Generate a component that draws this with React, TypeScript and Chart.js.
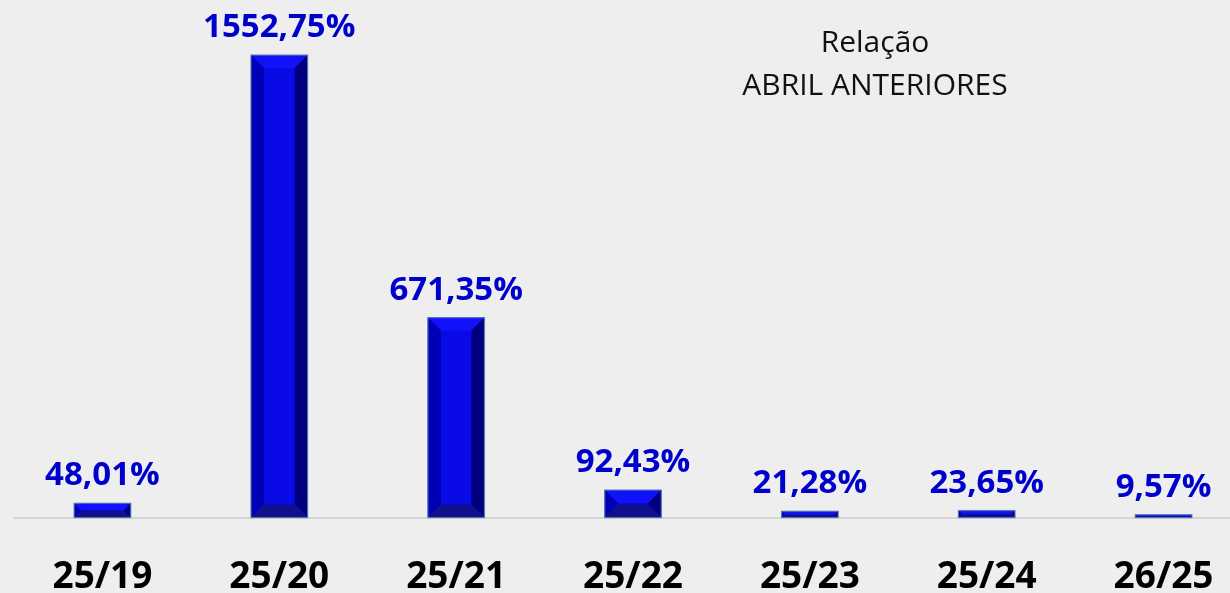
import React, { useEffect, useRef } from "react";
import { Chart, registerables } from "chart.js";

Chart.register(...registerables);

const categories = ["25/19", "25/20", "25/21", "25/22", "25/23", "25/24", "26/25"];
const values = [48.01, 1552.75, 671.35, 92.43, 21.28, 23.65, 9.57];
const titleLines = ["Relação", "ABRIL ANTERIORES"];

const fmt = (v: number) => v.toFixed(2).replace(".", ",") + "%";

const bevelPlugin = {
  id: "bevel",
  afterDatasetsDraw(chart: any) {
    const ctx = chart.ctx;
    const meta = chart.getDatasetMeta(0);
    meta.data.forEach((bar: any) => {
      const { x, y, base, width } = bar.getProps(["x", "y", "base", "width"], true);
      const l = x - width / 2;
      const r = x + width / 2;
      const t = Math.min(y, base);
      const btm = Math.max(y, base);
      const h = btm - t;
      const b = Math.min(13, h / 2, width / 2);
      ctx.save();
      const poly = (pts: number[][], color: string) => {
        ctx.beginPath();
        ctx.moveTo(pts[0][0], pts[0][1]);
        for (let i = 1; i < pts.length; i++) ctx.lineTo(pts[i][0], pts[i][1]);
        ctx.closePath();
        ctx.fillStyle = color;
        ctx.fill();
      };
      poly([[l, t], [r, t], [r, btm], [l, btm]], "#0a0ae6");
      poly([[l, t], [r, t], [r - b, t + b], [l + b, t + b]], "#1212fa");
      poly([[l, t], [l + b, t + b], [l + b, btm - b], [l, btm]], "#0000b4");
      poly([[r, t], [r - b, t + b], [r - b, btm - b], [r, btm]], "#00007e");
      poly([[l, btm], [l + b, btm - b], [r - b, btm - b], [r, btm]], "#10108c");
      ctx.strokeStyle = "rgba(90,120,175,0.9)";
      ctx.lineWidth = 1.2;
      ctx.strokeRect(l, t, width, h);
      ctx.restore();
    });
  },
};

const labelPlugin = {
  id: "valueLabels",
  afterDatasetsDraw(chart: any) {
    const ctx = chart.ctx;
    const meta = chart.getDatasetMeta(0);
    ctx.save();
    ctx.font = "bold 33px 'Open Sans'";
    ctx.fillStyle = "#0000cc";
    ctx.textAlign = "center";
    ctx.textBaseline = "alphabetic";
    meta.data.forEach((bar: any, i: number) => {
      ctx.fillText(fmt(values[i]), bar.x, bar.y - 18);
    });
    ctx.restore();
  },
  afterDraw(chart: any) {
    const ctx = chart.ctx;
    ctx.save();
    ctx.font = "30px 'Open Sans'";
    ctx.fillStyle = "#111111";
    ctx.textAlign = "center";
    ctx.fillText(titleLines[0], 875, 52);
    ctx.fillText(titleLines[1], 875, 95);
    ctx.restore();
  },
};

export default function App() {
  const ref = useRef<HTMLCanvasElement>(null);
  useEffect(() => {
    if (!ref.current) return;
    const chart = new Chart(ref.current, {
      type: "bar",
      data: {
        labels: categories,
        datasets: [
          {
            data: values,
            backgroundColor: "rgba(0,0,0,0)",
            borderWidth: 0,
            barPercentage: 0.64,
            categoryPercentage: 0.5,
          },
        ],
      },
      options: {
        animation: false,
        responsive: true,
        maintainAspectRatio: false,
        layout: { padding: { left: 14, right: 0, top: 41, bottom: -37 } },
        plugins: { legend: { display: false }, tooltip: { enabled: false }, title: { display: false } },
        scales: {
          x: {
            grid: { display: false },
            border: { display: true, color: "#d6d6d6", width: 2 },
            ticks: {
              color: "#000000",
              padding: 30,
              font: { family: "'Open Sans'", weight: "bold", size: 37 },
            },
          },
          y: {
            display: false,
            min: 0,
            max: 1600,
          },
        },
      },
      plugins: [bevelPlugin, labelPlugin],
    });
    return () => chart.destroy();
  }, []);
  return (
    <div style={{ position: "fixed", left: 0, top: 0, width: 1230, height: 593, overflow: "hidden", background: "#eeeeee" }}>
      <div style={{ position: "relative", width: 1252, height: 593 }}>
        <canvas ref={ref} />
      </div>
    </div>
  );
}
